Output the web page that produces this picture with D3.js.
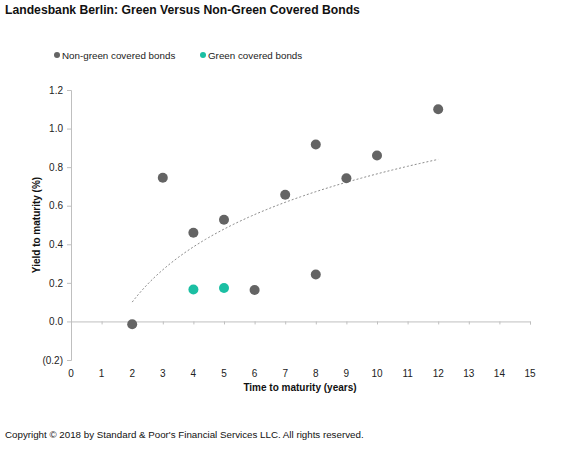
<!DOCTYPE html>
<html><head><meta charset="utf-8">
<script src="https://cdn.jsdelivr.net/npm/d3@7"></script>
<style>body{margin:0;background:#fff;font-family:"Liberation Sans",Arial,sans-serif;}</style>
</head><body>
<script>
const nonGreenX = [2, 3, 4, 5, 6, 7, 8, 8, 9, 10, 12];
const nonGreenY = [-0.015, 0.745, 0.46, 0.527, 0.163, 0.657, 0.917, 0.243, 0.742, 0.86, 1.10];
const greenX = [4, 5];
const greenY = [0.166, 0.173];
const xTicks = d3.range(0, 16);
const yTicks = [-0.2, 0, 0.2, 0.4, 0.6, 0.8, 1.0, 1.2];
const trendA = -0.186, trendB = 0.413; // logarithmic trendline y = a + b ln(x)
const trendRange = [2, 12];
const seriesNames = ["Non-green covered bonds", "Green covered bonds"];
const colors = ["#646464", "#1bbfa3"];

const W = 566, H = 453;
const svg = d3.select("body").append("svg").attr("width", W).attr("height", H);
const x = d3.scaleLinear().domain([0, 15]).range([71, 530]);
const y = d3.scaleLinear().domain([-0.2, 1.2]).range([360, 90]);

svg.append("text").attr("x", 5).attr("y", 14).attr("font-size", 12.2).attr("font-weight", "bold")
  .attr("fill", "#111").text("Landesbank Berlin: Green Versus Non-Green Covered Bonds");

// legend
const lg = [{x: 57, i: 0}, {x: 203, i: 1}];
lg.forEach(d => {
  svg.append("circle").attr("cx", d.x).attr("cy", 55).attr("r", 3).attr("fill", colors[d.i]);
  svg.append("text").attr("x", d.x + 5).attr("y", 59).attr("font-size", 9.8).attr("fill", "#222").text(seriesNames[d.i]);
});

// y axis
const yAxis = d3.axisLeft(y).tickValues(yTicks).tickSize(4).tickPadding(4)
  .tickFormat(v => v < 0 ? "(" + d3.format(".1f")(-v) + ")" : d3.format(".1f")(v));
const gy = svg.append("g").attr("transform", `translate(${x(0)},0)`).call(yAxis);
gy.select(".domain").attr("stroke", "#bfbfbf");
gy.selectAll(".tick line").attr("stroke", "#bfbfbf");
gy.selectAll(".tick text").attr("font-size", 10).attr("fill", "#222").attr("font-family", "Liberation Sans, Arial, sans-serif");

// x axis at y=0
const xAxis = d3.axisBottom(x).tickValues(xTicks).tickSize(3).tickFormat("");
const gx = svg.append("g").attr("transform", `translate(0,${y(0)})`).call(xAxis);
gx.select(".domain").attr("stroke", "#bfbfbf");
gx.selectAll(".tick line").attr("stroke", "#bfbfbf");
svg.append("g").selectAll("text").data(xTicks).join("text")
  .attr("x", d => x(d)).attr("y", 377).attr("text-anchor", "middle")
  .attr("font-size", 10).attr("fill", "#222").text(d => d);

// axis titles
svg.append("text").attr("x", 300).attr("y", 391).attr("text-anchor", "middle")
  .attr("font-size", 10).attr("font-weight", "bold").attr("fill", "#111").text("Time to maturity (years)");
svg.append("text").attr("transform", "translate(40,225) rotate(-90)").attr("text-anchor", "middle")
  .attr("font-size", 10).attr("font-weight", "bold").attr("fill", "#111").text("Yield to maturity (%)");

// trendline
const tx = d3.range(trendRange[0], trendRange[1] + 0.001, 0.1);
svg.append("path").datum(tx)
  .attr("d", d3.line().x(d => x(d)).y(d => y(trendA + trendB * Math.log(d))))
  .attr("fill", "none").attr("stroke", "#8c8c8c").attr("stroke-width", 1).attr("stroke-dasharray", "2,2");

// points
svg.append("g").selectAll("circle").data(nonGreenX.map((v, i) => [v, nonGreenY[i]])).join("circle")
  .attr("cx", d => x(d[0])).attr("cy", d => y(d[1])).attr("r", 5).attr("fill", colors[0]);
svg.append("g").selectAll("circle").data(greenX.map((v, i) => [v, greenY[i]])).join("circle")
  .attr("cx", d => x(d[0])).attr("cy", d => y(d[1])).attr("r", 5).attr("fill", colors[1]);

svg.append("text").attr("x", 5).attr("y", 438).attr("font-size", 9.75).attr("fill", "#111")
  .text("Copyright © 2018 by Standard & Poor's Financial Services LLC. All rights reserved.");
</script>
</body></html>
